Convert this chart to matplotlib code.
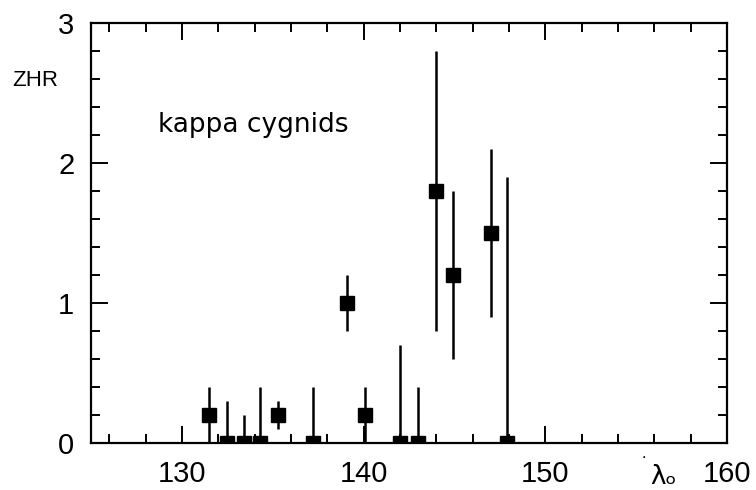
import matplotlib
matplotlib.use("Agg")
import matplotlib.pyplot as plt
import numpy as np
from matplotlib.ticker import MultipleLocator

# Data
solar_longitude = [131.5, 132.5, 133.4, 134.3, 135.3, 137.2, 139.1, 140.1,
                   142.0, 143.0, 144.0, 144.9, 147.0, 147.9]
zhr = [0.2, 0.0, 0.0, 0.0, 0.2, 0.0, 1.0, 0.2, 0.0, 0.0, 1.8, 1.2, 1.5, 0.0]
zhr_low = [0.0, 0.0, 0.0, 0.0, 0.1, 0.0, 0.8, 0.0, 0.0, 0.0, 0.8, 0.6, 0.9, 0.0]
zhr_high = [0.4, 0.3, 0.2, 0.4, 0.3, 0.4, 1.2, 0.4, 0.7, 0.4, 2.8, 1.8, 2.1, 1.9]
x_ticks = [130, 140, 150, 160]
y_ticks = [0, 1, 2, 3]
shower_name = "kappa cygnids"

plt.rcParams['font.family'] = ['Liberation Sans', 'DejaVu Sans']

fig = plt.figure(figsize=(7.56, 4.90), dpi=100)
ax = fig.add_axes([91/756, 47/490, (727-91)/756, (443-23)/490])

x = np.array(solar_longitude)
y = np.array(zhr)
lo = y - np.array(zhr_low)
hi = np.array(zhr_high) - y

ax.errorbar(x, y, yerr=[lo, hi], fmt='s', color='black', ms=9.5,
            elinewidth=1.8, capsize=0, mec='black', mfc='black')

ax.set_xlim(125, 160)
ax.set_ylim(0, 3)
ax.set_xticks(x_ticks)
ax.set_yticks(y_ticks)
ax.xaxis.set_minor_locator(MultipleLocator(2))
ax.yaxis.set_minor_locator(MultipleLocator(0.2))

for s in ax.spines.values():
    s.set_linewidth(1.6)

ax.tick_params(which='both', direction='in', top=True, right=True,
               width=1.4, labelsize=21, pad=12)
ax.tick_params(which='major', length=12)
ax.tick_params(which='minor', length=6.5)

ax.text(-0.087, 0.862, "ZHR", transform=ax.transAxes, fontsize=16,
        ha='center', va='center')
ax.text((158-91)/636, (443-125)/420, shower_name, transform=ax.transAxes,
        fontsize=19, ha='left', va='center', family=['DejaVu Sans'])

# x-axis symbol: upright lambda with subscript "o"
ax.text((664-91)/636, -(41)/420, 'λₒ', transform=ax.transAxes,
        fontsize=19, ha='center', va='baseline', family=['DejaVu Sans'])
ax.text((644-91)/636, -(10)/420, '.', transform=ax.transAxes,
        fontsize=12, ha='center', va='center')

fig.savefig("out.png", dpi=100)
